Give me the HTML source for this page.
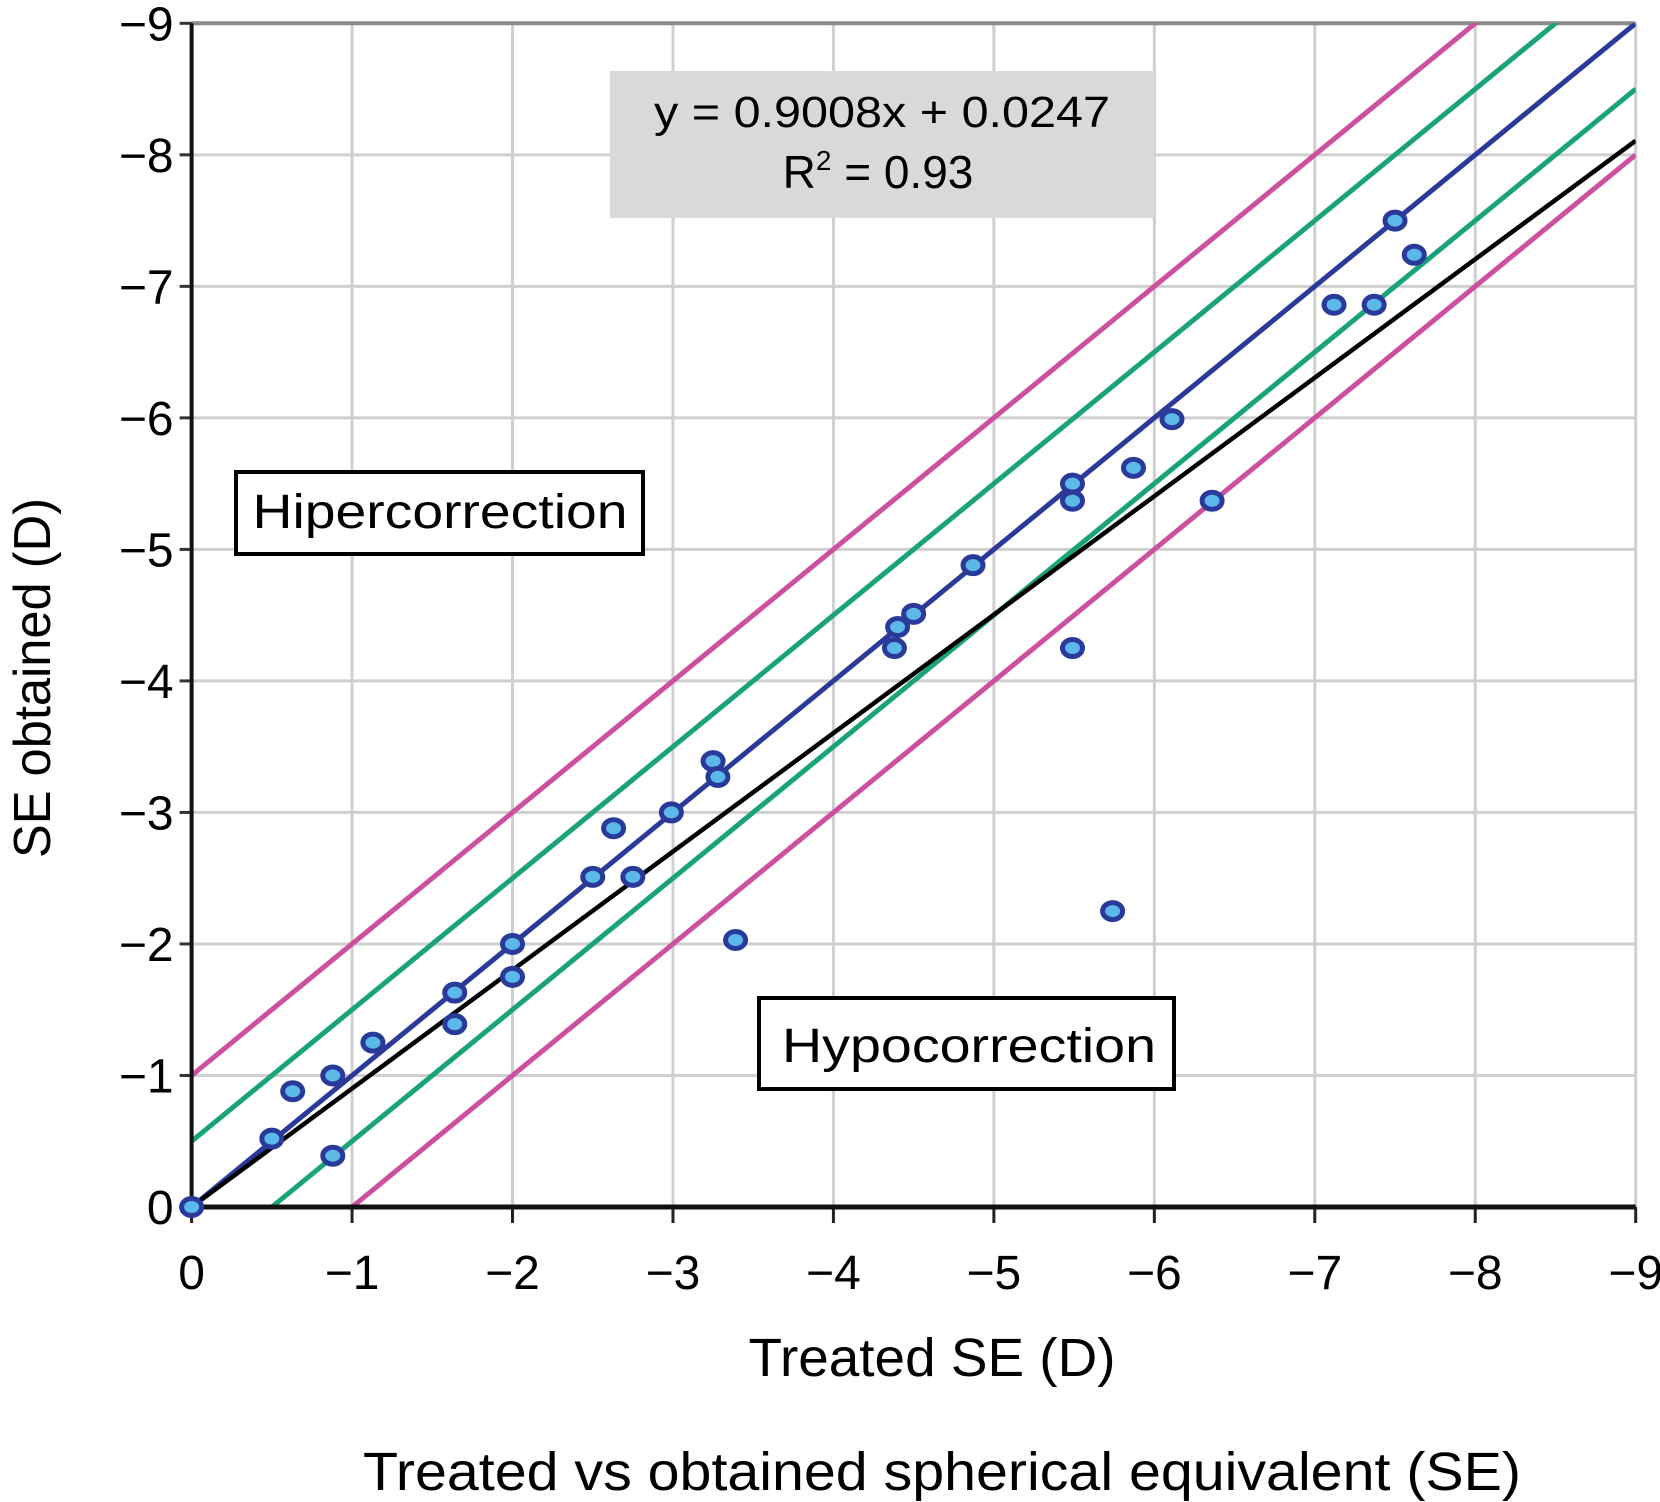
<!DOCTYPE html>
<html><head><meta charset="utf-8"><style>
html,body{margin:0;padding:0;background:#fff;}
svg{display:block;font-family:"Liberation Sans",sans-serif;}
</style></head><body>
<svg id="chart" width="1660" height="1502" viewBox="0 0 1660 1502">
<g id="grid"></g>
<g id="lines"></g>
<g id="axes"></g>
<g id="pts"></g>
<rect x="610" y="71" width="544" height="147" fill="#d9d9d9"/>
<text x="882" y="127" font-size="44" text-anchor="middle" textLength="456" lengthAdjust="spacingAndGlyphs">y = 0.9008x + 0.0247</text>
<text x="878" y="188" font-size="46" text-anchor="middle">R<tspan font-size="28" dy="-18">2</tspan><tspan dy="18"> = 0.93</tspan></text>
<rect x="236" y="472" width="407" height="82" fill="#fff" stroke="#000" stroke-width="4"/>
<text x="440" y="528" font-size="48" text-anchor="middle" textLength="375" lengthAdjust="spacingAndGlyphs">Hipercorrection</text>
<rect x="759" y="998" width="415" height="91" fill="#fff" stroke="#000" stroke-width="4"/>
<text x="969" y="1062" font-size="48" text-anchor="middle" textLength="374" lengthAdjust="spacingAndGlyphs">Hypocorrection</text>
<text x="932" y="1376" font-size="54" text-anchor="middle" textLength="367" lengthAdjust="spacingAndGlyphs">Treated SE (D)</text>
<text x="942" y="1490" font-size="54" text-anchor="middle" textLength="1158" lengthAdjust="spacingAndGlyphs">Treated vs obtained spherical equivalent (SE)</text>
<text transform="translate(50,678) rotate(-90)" font-size="52" text-anchor="middle" textLength="360" lengthAdjust="spacingAndGlyphs">SE obtained (D)</text>
</svg>
<script>
const ticks = [0,-1,-2,-3,-4,-5,-6,-7,-8,-9];
const tickLabels = ["0","\u22121","\u22122","\u22123","\u22124","\u22125","\u22126","\u22127","\u22128","\u22129"];
const treated = [0,-0.5,-0.63,-0.88,-0.88,-1.13,-1.64,-1.64,-2.0,-2.0,-2.5,-2.63,-2.75,-2.99,-3.25,-3.28,-3.39,-4.38,-4.4,-4.5,-4.87,-5.49,-5.49,-5.49,-5.74,-5.87,-6.11,-6.36,-7.12,-7.37,-7.5,-7.62];
const obtained = [0,-0.52,-0.88,-1.0,-0.39,-1.25,-1.63,-1.39,-2.0,-1.75,-2.51,-2.88,-2.51,-3.0,-3.39,-3.27,-2.03,-4.25,-4.41,-4.51,-4.88,-5.5,-5.37,-4.25,-2.25,-5.62,-5.99,-5.37,-6.86,-6.86,-7.5,-7.24];
const refOffsets = [1,0.5,0,-0.5,-1];
const refColors = ["#cc4fa0","#1aa37a","#2b3a99","#1aa37a","#cc4fa0"];
const regSlope = 0.9008, regIntercept = 0.0247;

const NS="http://www.w3.org/2000/svg";
const X0=191.6, X1=1635.7, Y0=1207, Y1=23.3;
const sx=v=>X0+(v/-9)*(X1-X0);
const sy=v=>Y0-(v/-9)*(Y0-Y1);
function mk(tag,attrs,parent){const e=document.createElementNS(NS,tag);for(const k in attrs)e.setAttribute(k,attrs[k]);parent.appendChild(e);return e;}
const grid=document.getElementById('grid'), axes=document.getElementById('axes'), lines=document.getElementById('lines'), pts=document.getElementById('pts');
const svg=document.getElementById('chart');
ticks.forEach((t,i)=>{
  if(t!==0){
    const gv=mk('line',{x1:sx(t),x2:sx(t),y1:Y1,y2:Y0,stroke:'#cfcfcf','stroke-width':3},grid);
    
    
    const gh=mk('line',{x1:X0,x2:X1,y1:sy(t),y2:sy(t),stroke:i===9?'#8a8a8a':'#cfcfcf','stroke-width':i===9?4:3},grid);
    
    
  }
  const tx=mk('line',{x1:sx(t),x2:sx(t),y1:Y0,y2:Y0+16,stroke:'#222','stroke-width':3},axes);
  
  
  const ty=mk('line',{x1:X0-12,x2:X0,y1:sy(t),y2:sy(t),stroke:'#333','stroke-width':3},axes);
  
  
  const lx=mk('text',{x:sx(t),y:Y0+82,'font-size':48,'text-anchor':'middle'},axes);
  lx.textContent=tickLabels[i];
  
  
  const ly=mk('text',{x:X0-18,y:sy(t)+17,'font-size':48,'text-anchor':'end'},axes);
  ly.textContent=tickLabels[i];
  
  
});
const ax1=mk('line',{x1:X0,x2:X0,y1:Y1,y2:Y0,stroke:'#111','stroke-width':4},axes);


const ax2=mk('line',{x1:X0,x2:X1,y1:Y0,y2:Y0,stroke:'#111','stroke-width':5},axes);


const defs=mk('defs',{},svg);
const cp=mk('clipPath',{id:'plot'},defs);
mk('rect',{x:X0,y:Y1,width:X1-X0,height:Y0-Y1+8},cp);
lines.setAttribute('clip-path','url(#plot)');
refOffsets.forEach((o,i)=>{
  const xa=Math.min(0,o), xb=-9;
  const l=mk('line',{x1:sx(xa),y1:sy(xa-o),x2:sx(xb),y2:sy(xb-o),stroke:refColors[i],'stroke-width':5},lines);
  
  
});
const reg=mk('line',{x1:sx(0),y1:sy(0),x2:sx(-9),y2:sy(-9*regSlope),stroke:'#000','stroke-width':4.5},lines);


treated.forEach((t,i)=>{
  const c=mk('ellipse',{cx:sx(t),cy:sy(obtained[i]),rx:10,ry:8.5,fill:'#5bb8e8',stroke:'#2a3a9a','stroke-width':5},pts);
  
  
});
</script>
</body></html>
